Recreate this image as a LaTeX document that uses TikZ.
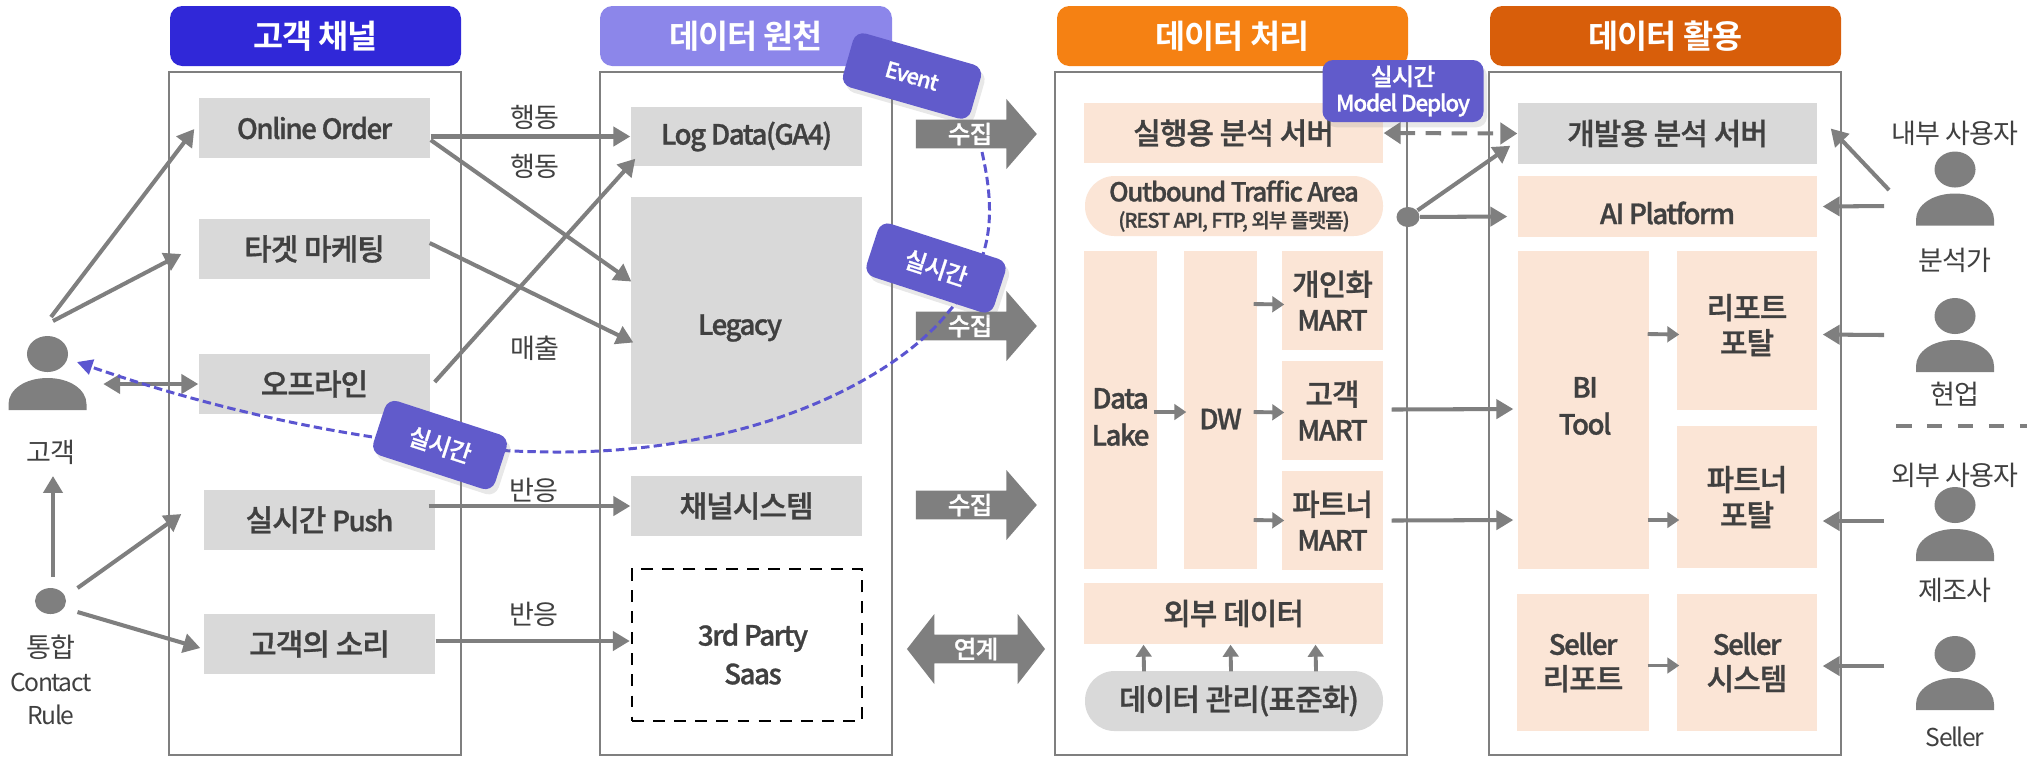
\documentclass[tikz,border=0pt]{standalone}
\usepackage{fontspec}
\usepackage{xcolor}
\usepackage{tikz}
\setmainfont{Noto Sans CJK KR}
\newfontfamily\boxfont[FakeBold=1,LetterSpace=-3]{Noto Sans CJK KR Medium}
\newfontfamily\latfont[FakeBold=1,LetterSpace=-5.5]{Noto Sans CJK KR Medium}
\newfontfamily\headfont[LetterSpace=-3]{Noto Sans CJK KR Bold}
\newfontfamily\thinfont[LetterSpace=-3]{Noto Sans CJK KR}
\newfontfamily\thinlat[LetterSpace=-6]{Noto Sans CJK KR}
\usetikzlibrary{shapes,arrows.meta,positioning,calc,shadows}

\definecolor{linegray}{HTML}{7F7F7F}
\definecolor{boxgray}{HTML}{D9D9D9}
\definecolor{boxpeach}{HTML}{FBE5D6}
\definecolor{tagpurple}{HTML}{615BCB}
\definecolor{curvepurple}{HTML}{5B55D0}
\definecolor{textgray}{HTML}{404040}

\newcommand{\lat}[1]{{\latfont\fontsize{7.9}{10}\selectfont #1}}
\newcommand{\latthin}[1]{{\thinlat\fontsize{7}{9.4}\selectfont #1}}

\tikzset{
    boxsize/.style 2 args={minimum width=#1*0.01cm, minimum height=#2*0.01cm, inner sep=0pt},
    headbox/.style={rounded corners=3.5pt, text=white, align=center, font=\headfont\fontsize{9.3}{10}\selectfont},
    panelbox/.style={draw=linegray, line width=0.8pt, fill=white},
    graybox/.style={fill=boxgray, text=textgray, align=center, font=\boxfont\fontsize{8.5}{10}\selectfont},
    peachbox/.style={fill=boxpeach, text=textgray, align=center, font=\boxfont\fontsize{8.5}{10}\selectfont},
    boxtext/.style={inner sep=0pt, text=textgray, align=center, font=\boxfont\fontsize{8.5}{10}\selectfont},
    smalltext/.style={text=textgray, align=center, font=\thinfont\fontsize{7.7}{9.6}\selectfont},
    tagbox/.style={fill=tagpurple, rounded corners=3pt, text=white, align=center,
        font=\boxfont\fontsize{6.8}{7.4}\selectfont,
        drop shadow={opacity=0.18, shadow xshift=1pt, shadow yshift=-1.5pt}},
    conn/.style={draw=linegray, line width=1.15pt, -{Triangle[length=4.8pt,width=5.4pt]}},
    shortconn/.style={draw=linegray, line width=1.1pt, -{Triangle[length=3.4pt,width=4.4pt]}},
    sendarrow/.style={single arrow, single arrow head extend=0.17cm, single arrow tip angle=98,
        single arrow head indent=0pt, minimum width=0.7cm, minimum height=1.21cm, inner sep=0pt,
        fill=linegray, text=white, font=\boxfont\fontsize{7}{7.4}\selectfont},
    linkarrow/.style={double arrow, double arrow head extend=0.17cm, double arrow tip angle=104,
        double arrow head indent=0pt, minimum width=0.7cm, minimum height=1.38cm, inner sep=0pt,
        fill=linegray, text=white, font=\boxfont\fontsize{7}{7.4}\selectfont}
}

% head and body of a person
\newcommand{\personicon}[3]{
    \node[fill=linegray, ellipse, minimum width=0.41cm, minimum height=0.36cm, inner sep=0pt] (#1head) at (#2,#3) {};
    \fill[linegray] ($(#1head)+(-39,56)$) -- ($(#1head)+(-39,50)$)
        .. controls ($(#1head)+(-39,36)$) and ($(#1head)+(-23,24)$) .. ($(#1head)+(0,24)$)
        .. controls ($(#1head)+(23,24)$) and ($(#1head)+(39,36)$) .. ($(#1head)+(39,50)$)
        -- ($(#1head)+(39,56)$) -- cycle;
}

\begin{document}
\begin{tikzpicture}[x=0.01cm, y=-0.01cm]
    \useasboundingbox (0,0) rectangle (2040,756);

    % Panels
    \node[panelbox, boxsize={292}{683}] (channelpanel) at (315,413.5) {};
    \node[panelbox, boxsize={292}{683}] (sourcepanel) at (746,413.5) {};
    \node[panelbox, boxsize={352}{683}] (processpanel) at (1231,413.5) {};
    \node[panelbox, boxsize={352}{683}] (usepanel) at (1665,413.5) {};

    % Headers
    \node[headbox, fill={rgb,255:red,48;green,40;blue,216}, boxsize={291}{60}] (channelhead) at (315.5,36) {고객 채널};
    \node[headbox, fill={rgb,255:red,140;green,134;blue,234}, boxsize={292}{60}] (sourcehead) at (746,36) {데이터 원천};
    \node[headbox, fill={rgb,255:red,245;green,129;blue,19}, boxsize={351}{60}] (processhead) at (1232.5,36) {데이터 처리};
    \node[headbox, fill={rgb,255:red,216;green,94;blue,10}, boxsize={351}{60}] (usehead) at (1665.5,36) {데이터 활용};

    % Customer channels
    \node[graybox, boxsize={231}{60}] (online) at (314.5,128) {\lat{Online Order}};
    \node[graybox, boxsize={231}{60}] (target) at (314.5,249) {타겟 마케팅};
    \node[graybox, boxsize={231}{60}] (offline) at (314.5,384) {오프라인};
    \node[graybox, boxsize={231}{60}] (push) at (319.5,520) {실시간 \lat{Push}};
    \node[graybox, boxsize={231}{60}] (voice) at (319.5,644) {고객의 소리};

    % Data sources
    \node[graybox, boxsize={231}{59}] (logdata) at (746.5,136.5) {\lat{Log Data(GA4)}};
    \node[graybox, boxsize={231}{247}] (legacy) at (746.5,320.5) {};
    \node[boxtext] (legacytext) at (740,328) {\lat{Legacy}};
    \node[graybox, boxsize={231}{60}] (chansys) at (746.5,506) {채널시스템};
    \node[draw=black, dash pattern=on 3.4pt off 2.6pt, line width=0.7pt, boxsize={230}{152}] (thirdparty) at (747,645) {};
    \node[boxtext] (thirdtext) at (753,654) {\lat{3rd Party}\\[1pt]\lat{Saas}};

    % Data processing
    \node[peachbox, boxsize={299}{60}] (runserver) at (1233.5,133) {실행용 분석 서버};
    \node[peachbox, rounded corners=8.4pt, boxsize={298}{60}, font=\latfont\fontsize{7.4}{9}\selectfont] (outbound) at (1234,206) {Outbound Traffic Area\\[-1.5pt]{\fontsize{5.7}{7}\selectfont (REST API, FTP, 외부 플랫폼)}};
    \node[peachbox, boxsize={73}{318}] (datalake) at (1120.5,410) {};
    \node[boxtext] (laketext) at (1120.5,417) {\lat{Data}\\[0.5pt]\lat{Lake}};
    \node[peachbox, boxsize={73}{318}] (dw) at (1220.5,410) {};
    \node[boxtext] (dwtext) at (1220.5,419) {\lat{DW}};
    \node[peachbox, boxsize={101}{99}] (personalmart) at (1332.5,300.5) {개인화\\\lat{MART}};
    \node[peachbox, boxsize={101}{99}] (custmart) at (1332.5,410.5) {고객\\\lat{MART}};
    \node[peachbox, boxsize={101}{99}] (partnermart) at (1332.5,520.5) {파트너\\\lat{MART}};
    \node[peachbox, boxsize={299}{61}] (external) at (1233.5,613.5) {외부 데이터};
    \node[graybox, rounded corners=8.4pt, boxsize={298}{60}] (datamgmt) at (1234,701) {};
    \node[boxtext] (mgmttext) at (1239,701) {데이터 관리(표준화)};

    % Data use
    \node[graybox, boxsize={299}{61}] (devserver) at (1667.5,133.5) {개발용 분석 서버};
    \node[peachbox, boxsize={299}{61}] (aiplatform) at (1667.5,206.5) {};
    \node[boxtext] (aitext) at (1667.5,213) {\lat{AI Platform}};
    \node[peachbox, boxsize={131}{318}] (bitool) at (1583.5,410) {};
    \node[boxtext] (bitext) at (1585,406) {\lat{BI}\\[0.5pt]\lat{Tool}};
    \node[peachbox, boxsize={140}{159}] (reportportal) at (1747,330.5) {};
    \node[boxtext] (reporttext) at (1747,325) {리포트\\포탈};
    \node[peachbox, boxsize={140}{142}] (partnerportal) at (1747,497) {파트너\\포탈};
    \node[peachbox, boxsize={132}{137}] (sellerreport) at (1583,662.5) {\lat{Seller}\\리포트};
    \node[peachbox, boxsize={140}{137}] (sellersys) at (1747,662.5) {\lat{Seller}\\시스템};

    % Block arrows
    \node[sendarrow] (sendone) at (970,134) {수집};
    \node[sendarrow] (sendtwo) at (970,326) {수집};
    \node[sendarrow] (sendthree) at (970,505) {수집};
    \node[linkarrow] (linkband) at (976,649) {연계};

    % People
    \personicon{customer}{47.5}{354}
    \personicon{insider}{1955}{169.5}
    \personicon{analyst}{1955}{316}
    \personicon{maker}{1955}{505}
    \personicon{seller}{1955}{654}
    \node[smalltext] (customerlabel) at (51,452) {고객};
    \node[fill=linegray, ellipse, minimum width=0.31cm, minimum height=0.26cm, inner sep=0pt] (contactdot) at (50.5,601) {};
    \node[smalltext] (contactlabel) at (51,680) {통합\\\latthin{Contact}\\\latthin{Rule}};
    \node[smalltext] (insiderlabel) at (1955,133) {내부 사용자};
    \node[smalltext] (analystlabel) at (1955,260) {분석가};
    \node[smalltext] (fieldlabel) at (1955,394) {현업};
    \node[smalltext] (outsiderlabel) at (1955,475) {외부 사용자};
    \node[smalltext] (makerlabel) at (1955,590) {제조사};
    \node[smalltext] (sellerlabel) at (1955,737) {\latthin{Seller}};
    \coordinate (leftsplit) at (1896,426);
    \coordinate (rightsplit) at (2027,426);
    \draw[linegray, line width=1.1pt, dash pattern=on 4.4pt off 4.4pt] (leftsplit) -- (rightsplit);

    % Link labels
    \node[smalltext] (actionone) at (535,117) {행동};
    \node[smalltext] (actiontwo) at (535,166) {행동};
    \node[smalltext] (saleslabel) at (535,348) {매출};
    \node[smalltext] (replyone) at (534,490) {반응};
    \node[smalltext] (replytwo) at (534,614) {반응};

    % Left side arrows
    \coordinate (custone) at (51,317);
    \coordinate (custtwo) at (53,321);
    \draw[conn] (custone) -- ($(online.west)+(-4,1)$);
    \draw[conn] (custtwo) -- ($(target.west)+(-17,5)$);
    \draw[conn, {Triangle[length=4.8pt,width=5.4pt]}-{Triangle[length=4.8pt,width=5.4pt]}] ($(offline.west)+(-95,0)$) -- (offline.west);
    \draw[conn] ($(contactdot)+(2.5,-24)$) -- ($(customerlabel)+(2,24)$);
    \draw[conn] ($(contactdot)+(27,-13)$) -- ($(push.west)+(-22,-6)$);
    \draw[conn] ($(contactdot)+(27,11)$) -- ($(voice.west)+(-3,4)$);

    % Channels to sources
    \draw[conn] (online.east |- logdata.west) -- (logdata.west);
    \draw[conn] ($(online.east)+(0,12)$) -- ($(legacy.west)+(1,-39)$);
    \draw[conn] ($(target.east)+(-1,-6)$) -- ($(legacy.west)+(3,22)$);
    \draw[conn] ($(offline.east)+(4,-2)$) -- ($(logdata.south west)+(5,-8)$);
    \draw[conn] ($(push.east)+(-7,-14)$) -- (chansys.west);
    \draw[conn] ($(voice.east)+(0,-3)$) -- ($(thirdparty.west)+(-1,-4)$);

    % Processing arrows
    \draw[shortconn] ($(datalake.east)+(-4,2)$) -- ($(dw.west)+(3,2)$);
    \draw[shortconn] ($(dw.east)+(-4,-106)$) -- ($(personalmart.west)+(3,4)$);
    \draw[shortconn] ($(dw.east)+(-4,2)$) -- ($(custmart.west)+(3,2)$);
    \draw[shortconn] ($(dw.east)+(-4,110)$) -- ($(partnermart.west)+(3,0)$);
    \draw[shortconn] ($(datamgmt.north)+(-90,1)$) -- ($(external.south)+(-90,0)$);
    \draw[shortconn] ($(datamgmt.north)+(-3,1)$) -- ($(external.south)+(-3,0)$);
    \draw[shortconn] ($(datamgmt.north)+(82,1)$) -- ($(external.south)+(82,0)$);
    \draw[conn] ($(custmart.east)+(8,-1)$) -- ($(bitool.west)+(-4,-1)$);
    \draw[conn] ($(partnermart.east)+(8,0)$) -- ($(bitool.west)+(-4,110)$);

    % Use side arrows
    \draw[shortconn] ($(bitool.east)+(-2,-76)$) -- ($(reportportal.west)+(3,4)$);
    \draw[shortconn] ($(bitool.east)+(-2,110)$) -- ($(partnerportal.west)+(3,23)$);
    \draw[shortconn] ($(sellerreport.east)+(-2,3)$) -- ($(sellersys.west)+(3,3)$);

    % Outbound link
    \node[fill=linegray, ellipse, minimum width=0.23cm, minimum height=0.2cm, inner sep=0pt] (outdot) at (1408,217) {};
    \draw[conn] (outdot) -- ($(devserver.south west)+(-7,-19)$);
    \draw[conn] (outdot) -- ($(aiplatform.west)+(-10,10)$);
    \draw[conn, dash pattern=on 4.4pt off 3pt, {Triangle[length=4.8pt,width=6pt]}-{Triangle[length=4.8pt,width=6pt]}] (runserver.east) -- (devserver.west);

    % People arrows
    \coordinate (insiderfoot) at (1889,190);
    \draw[conn] (insiderfoot) -- ($(devserver.east)+(13,-5)$);
    \draw[conn] ($(insiderhead)+(-71,36.5)$) -- ($(aiplatform.east)+(5,0)$);
    \draw[conn] ($(analysthead)+(-71,19)$) -- ($(reportportal.east)+(5,4)$);
    \draw[conn] ($(makerhead)+(-71,16)$) -- ($(partnerportal.east)+(5,24)$);
    \draw[conn] ($(sellerhead)+(-71,12)$) -- ($(sellersys.east)+(5,3.5)$);

    % Purple curve
    \coordinate (curvestart) at (982,152);
    \coordinate (curvemid) at (950,310);
    \coordinate (curvelow) at (560,452);
    \coordinate (curveend) at (77,362);
    \draw[curvepurple, line width=0.85pt, dash pattern=on 2.4pt off 1.2pt, -{Triangle[length=4.4pt,width=4.4pt]}]
        (curvestart) .. controls (995,210) and (995,260) .. (curvemid)
        .. controls (900,375) and (760,452) .. (curvelow)
        .. controls (400,452) and (230,415) .. (curveend);

    % Purple tags
    \node[tagbox, rotate=-16, boxsize={133}{56}, font=\latfont\fontsize{6.2}{7.4}\selectfont] (eventtag) at (912,76) {Event};
    \node[tagbox, rotate=-18, boxsize={134}{56}] (livetagone) at (936,268) {실시간};
    \node[tagbox, rotate=-18, boxsize={128}{57}] (livetagtwo) at (440,445) {실시간};
    \node[tagbox, boxsize={161}{62}] (deploytag) at (1403,91) {실시간\\{\latfont\fontsize{6.4}{7.4}\selectfont Model Deploy}};
\end{tikzpicture}
\end{document}
